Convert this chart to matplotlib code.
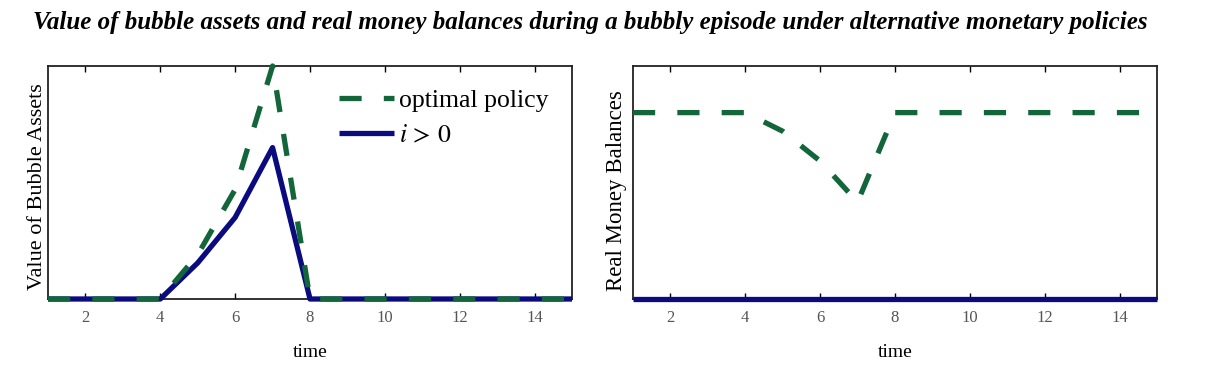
import matplotlib
matplotlib.use("Agg")
import matplotlib.pyplot as plt

time = [1, 2, 3, 4, 5, 6, 7, 8, 9, 10, 11, 12, 13, 14, 15]
bubble_optimal = [0, 0, 0, 0, 0.19, 0.47, 1.0, 0, 0, 0, 0, 0, 0, 0, 0]
bubble_ipos = [0, 0, 0, 0, 0.155, 0.35, 0.65, 0, 0, 0, 0, 0, 0, 0, 0]
money_optimal = [1, 1, 1, 1, 0.90, 0.74, 0.52, 1, 1, 1, 1, 1, 1, 1, 1]
money_ipos = [0, 0, 0, 0, 0, 0, 0, 0, 0, 0, 0, 0, 0, 0, 0]
xticks = [2, 4, 6, 8, 10, 12, 14]

title = "Value of bubble assets and real money balances during a bubbly episode under alternative monetary policies"

GREEN = "#12663a"
NAVY = "#0b0b80"
SERIF = ["Liberation Serif", "DejaVu Serif"]
plt.rcParams["font.family"] = SERIF
plt.rcParams["mathtext.fontset"] = "stix"

fig = plt.figure(figsize=(12.17, 3.74), dpi=100)
ax1 = fig.add_axes([48/1217, 1-299/374, (572-48)/1217, (299-66)/374])
ax2 = fig.add_axes([633/1217, 1-299/374, (1157-633)/1217, (299-66)/374])

lw = 3.8
dash = (4.2, 4.2)

ax1.plot(time, bubble_ipos, color=NAVY, lw=lw, solid_capstyle="butt",
         clip_on=False, label=r"$i\, >\, 0$", zorder=3)
ax1.plot(time, bubble_optimal, color=GREEN, lw=lw, dashes=dash,
         clip_on=False, label="optimal policy", zorder=4)
ax1.set_ylim(0, 1.0)
ax1.set_ylabel("Value of Bubble Assets", fontsize=16)

ax2.plot(time, money_optimal, color=GREEN, lw=lw, dashes=dash, zorder=4)
ax2.plot(time, money_ipos, color=NAVY, lw=lw, solid_capstyle="butt",
         clip_on=False, zorder=3)
ax2.set_ylim(0, 1.25)
ax2.set_ylabel("Real Money Balances", fontsize=16.5)

for ax in (ax1, ax2):
    ax.set_xlim(1, 15)
    ax.set_xticks(xticks)
    ax.set_yticks([])
    ax.tick_params(axis="x", direction="in", top=True, bottom=True, length=4,
                   width=1, labelsize=12, labelcolor="#555555", pad=8)
    ax.set_xlabel("time", fontsize=14, labelpad=13)
    for s in ax.spines.values():
        s.set_linewidth(1.3)
        s.set_color("#222222")

ax1.yaxis.set_label_coords(-0.002, 0.483)
ax2.yaxis.set_label_coords(-0.0115, 0.464)

handles, labels = ax1.get_legend_handles_labels()
ax1.legend(handles[::-1], labels[::-1], loc="upper right", frameon=False,
           fontsize=18.5, handlelength=2.15, handletextpad=0.2,
           borderaxespad=0.0, labelspacing=0.47, bbox_to_anchor=(0.975, 0.944))

fig.text(0.485, 1-23/374, title, ha="center", va="center", fontsize=18,
         fontweight="bold", fontstyle="italic", family=SERIF)

fig.savefig("out.png", dpi=100)
